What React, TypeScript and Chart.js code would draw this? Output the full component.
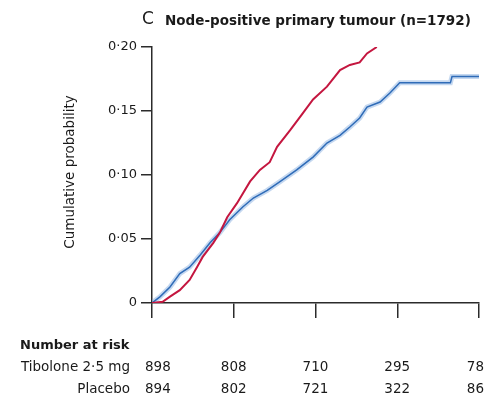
import React, { useEffect, useRef } from "react";
import { Chart, registerables } from "chart.js";

Chart.register(...registerables);

const tiboloneTime = [0, 0.1, 0.22, 0.34, 0.46, 0.59, 0.71, 0.83, 0.95, 1.11, 1.24, 1.41, 1.57, 1.77, 1.97, 2.14, 2.3, 2.42, 2.54, 2.63, 2.79, 2.91, 3.03, 3.65, 3.67, 4.0];
const tiboloneCum = [0, 0.005, 0.0125, 0.023, 0.028, 0.0375, 0.047, 0.055, 0.065, 0.075, 0.082, 0.088, 0.095, 0.104, 0.114, 0.125, 0.131, 0.1375, 0.1445, 0.153, 0.157, 0.164, 0.172, 0.172, 0.177, 0.177];

const placeboTime = [0, 0.13, 0.22, 0.34, 0.46, 0.55, 0.62, 0.75, 0.83, 0.92, 1.04, 1.2, 1.32, 1.44, 1.53, 1.69, 1.83, 1.97, 2.14, 2.3, 2.42, 2.54, 2.63, 2.75];
const placeboCum = [0, 0.001, 0.005, 0.01, 0.018, 0.028, 0.036, 0.047, 0.055, 0.067, 0.078, 0.095, 0.104, 0.11, 0.122, 0.135, 0.147, 0.159, 0.169, 0.182, 0.186, 0.188, 0.195, 0.2];

const yTickValues = [0, 0.05, 0.1, 0.15, 0.2];
const yTickLabels = ["0", "0·05", "0·10", "0·15", "0·20"];
const xTickValues = [0, 1, 2, 3, 4];

const riskGroups = ["Tibolone 2·5 mg", "Placebo"];
const tiboloneAtRisk = ["898", "808", "710", "295", "78"];
const placeboAtRisk = ["894", "802", "721", "322", "86"];

const panelLetter = "C";
const panelTitle = "Node-positive primary tumour (n=1792)";
const yTitle = "Cumulative probability";
const riskTitle = "Number at risk";

const RED = "#c4163f";
const BLUE = "#2f6cb8";
const HALO = "rgba(140,178,225,0.5)";
const AXIS = "#2b2b2b";
const FONT = "'DejaVu Sans', sans-serif";

export default function App() {
  const ref = useRef<HTMLCanvasElement | null>(null);

  useEffect(() => {
    document.body.style.margin = "0";
    const canvas = ref.current;
    if (!canvas) return;

    const textPlugin = {
      id: "extraText",
      afterDraw(chart: any) {
        const ctx = chart.ctx;
        const xs = chart.scales.x;
        ctx.save();
        ctx.fillStyle = "#1a1a1a";
        ctx.textBaseline = "middle";
        // title
        ctx.font = `17px ${FONT}`;
        ctx.textAlign = "left";
        ctx.fillText(panelLetter, 142, 20);
        ctx.font = `bold 13.5px ${FONT}`;
        ctx.fillText(panelTitle, 165, 21);
        // y title
        ctx.save();
        ctx.translate(70, 172);
        ctx.rotate(-Math.PI / 2);
        ctx.textAlign = "center";
        ctx.font = `13.5px ${FONT}`;
        ctx.fillText(yTitle, 0, 0);
        ctx.restore();
        // number at risk
        ctx.font = `bold 13px ${FONT}`;
        ctx.textAlign = "left";
        ctx.fillText(riskTitle, 20, 346);
        ctx.font = `13.5px ${FONT}`;
        ctx.textAlign = "right";
        ctx.fillText(riskGroups[0], 130, 367);
        ctx.fillText(riskGroups[1], 130, 389);
        const rows = [tiboloneAtRisk, placeboAtRisk];
        const rowY = [367, 389];
        ctx.textAlign = "center";
        ctx.font = `13.5px ${FONT}`;
        rows.forEach((row, r) => {
          row.forEach((val, i) => {
            const w = ctx.measureText(val).width;
            let cx = xs.getPixelForValue(xTickValues[i]);
            if (cx - w / 2 < 145) cx = 145 + w / 2;
            if (cx + w / 2 > 484) cx = 484 - w / 2;
            ctx.fillText(val, cx, rowY[r]);
          });
        });
        ctx.restore();
      },
    };

    const chart = new Chart(canvas, {
      type: "line",
      data: {
        datasets: [
          {
            label: "Placebo",
            data: placeboTime.map((t, i) => ({ x: t, y: placeboCum[i] })),
            borderColor: RED,
            borderWidth: 2,
            pointRadius: 0,
            tension: 0,
            fill: false,
            order: 0,
          },
          {
            label: "Tibolone 2·5 mg",
            data: tiboloneTime.map((t, i) => ({ x: t, y: tiboloneCum[i] })),
            borderColor: BLUE,
            borderWidth: 1.5,
            pointRadius: 0,
            tension: 0,
            fill: false,
            order: 1,
          },
          {
            label: "halo",
            data: tiboloneTime.map((t, i) => ({ x: t, y: tiboloneCum[i] })),
            borderColor: HALO,
            borderWidth: 5,
            pointRadius: 0,
            tension: 0,
            fill: false,
            order: 2,
          },
        ],
      },
      options: {
        responsive: false,
        animation: false,
        layout: { padding: { left: 0, right: 9, top: 47, bottom: 0 } },
        plugins: { legend: { display: false }, tooltip: { enabled: false } },
        scales: {
          x: {
            type: "linear",
            min: 0,
            max: 4,
            afterFit(scale: any) {
              scale.height = 99;
            },
            afterBuildTicks(scale: any) {
              scale.ticks = xTickValues.map((v) => ({ value: v }));
            },
            ticks: { callback: () => "", font: { size: 1 } },
            grid: { drawOnChartArea: false, drawTicks: true, tickLength: 15, color: AXIS, lineWidth: 1.5 },
            border: { display: true, color: AXIS, width: 1.5 },
          },
          y: {
            type: "linear",
            min: 0,
            max: 0.2,
            afterFit(scale: any) {
              scale.width = 152;
            },
            afterBuildTicks(scale: any) {
              scale.ticks = yTickValues.map((v) => ({ value: v }));
            },
            ticks: {
              padding: 4,
              color: "#1a1a1a",
              font: { family: FONT, size: 13 },
              callback: (v: any) => {
                const i = yTickValues.findIndex((t) => Math.abs(t - Number(v)) < 1e-9);
                return i >= 0 ? yTickLabels[i] : "";
              },
            },
            grid: { drawOnChartArea: false, drawTicks: true, tickLength: 11, color: AXIS, lineWidth: 1.5 },
            border: { display: true, color: AXIS, width: 1.5 },
          },
        },
      },
      plugins: [textPlugin],
    });

    return () => chart.destroy();
  }, []);

  return (
    <div style={{ position: "absolute", left: 0, top: 0, width: 488, height: 402, background: "#fff" }}>
      <canvas ref={ref} width={488} height={402} style={{ display: "block" }} />
    </div>
  );
}
